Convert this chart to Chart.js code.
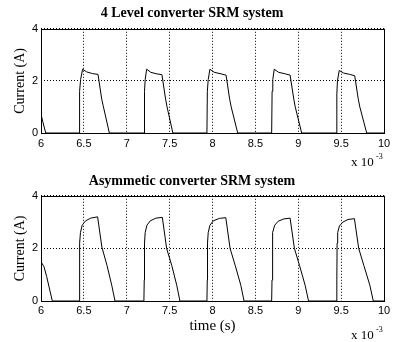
<!DOCTYPE html>
<html>
<head>
<meta charset="utf-8">
<script src="https://cdn.jsdelivr.net/npm/chart.js@4.4.1/dist/chart.umd.min.js"></script>
<style>
  html, body { margin: 0; padding: 0; background: #fff; }
  body { width: 398px; height: 342px; position: relative; overflow: hidden; }
  canvas { position: absolute; left: 0; }
</style>
</head>
<body>
<canvas id="c1" width="398" height="171" style="top:0"></canvas>
<canvas id="c2" width="398" height="171" style="top:171px"></canvas>
<script>
// ---- Data ----
const titleTop = '4 Level converter SRM system';
const titleBottom = 'Asymmetic converter SRM system';
const xTickLabels = ['6', '6.5', '7', '7.5', '8', '8.5', '9', '9.5', '10'];
const yTickLabels = ['0', '2', '4'];

// 4 level converter phase current (time in units of 10^-3 s, current in A)
const time4 = [
  6.0, 6.02, 6.055,
  6.445, 6.45, 6.462, 6.485, 6.53, 6.6, 6.665, 6.708, 6.725, 6.797,
  7.202, 7.207, 7.215, 7.232, 7.28, 7.35, 7.41, 7.453, 7.47, 7.538,
  7.935, 7.94, 7.95, 7.97, 8.02, 8.1, 8.158, 8.2, 8.218, 8.294,
  8.69, 8.695, 8.703, 8.72, 8.77, 8.85, 8.905, 8.948, 8.965, 9.04,
  9.447, 9.45, 9.457, 9.478, 9.53, 9.6, 9.658, 9.7, 9.718, 9.798,
  10.0
];
const current4 = [
  0.72, 0.45, 0,
  0, 1.6, 2.05, 2.45, 2.35, 2.28, 2.25, 1.3, 1.05, 0,
  0, 1.6, 2.05, 2.45, 2.33, 2.27, 2.24, 1.3, 1.0, 0,
  0, 1.6, 2.05, 2.45, 2.33, 2.27, 2.22, 1.3, 1.0, 0,
  0, 1.6, 2.05, 2.45, 2.33, 2.27, 2.22, 1.3, 1.0, 0,
  0, 1.5, 2.0, 2.4, 2.3, 2.25, 2.2, 1.3, 1.0, 0,
  0
];

// Asymmetric converter phase current
const timeA = [
  6.0, 6.035, 6.066, 6.132,
  6.445, 6.449, 6.452, 6.46, 6.48, 6.52, 6.58, 6.66, 6.71, 6.77, 6.825, 6.863,
  7.2, 7.204, 7.207, 7.215, 7.235, 7.275, 7.34, 7.415, 7.465, 7.525, 7.583, 7.62,
  7.935, 7.939, 7.942, 7.95, 7.97, 8.01, 8.08, 8.155, 8.205, 8.265, 8.33, 8.368,
  8.69, 8.694, 8.697, 8.705, 8.725, 8.765, 8.83, 8.905, 8.955, 9.015, 9.08, 9.12,
  9.447, 9.45, 9.453, 9.46, 9.48, 9.52, 9.58, 9.655, 9.705, 9.765, 9.835, 9.875,
  10.0
];
const currentA = [
  1.5, 1.3, 0.93, 0,
  0, 0.8, 2.2, 2.6, 2.88, 3.05, 3.15, 3.2, 2.05, 1.35, 0.6, 0,
  0, 0.8, 2.2, 2.6, 2.88, 3.05, 3.15, 3.18, 2.0, 1.35, 0.6, 0,
  0, 0.8, 2.2, 2.6, 2.88, 3.05, 3.14, 3.17, 2.0, 1.35, 0.6, 0,
  0, 0.8, 2.2, 2.6, 2.88, 3.03, 3.12, 3.15, 2.0, 1.35, 0.6, 0,
  0, 0.8, 2.2, 2.6, 2.85, 3.0, 3.1, 3.13, 2.0, 1.35, 0.6, 0,
  0
];

const SERIF = '"Liberation Serif", "DejaVu Serif", serif';
const SANS = '"Liberation Sans", Arial, sans-serif';

function toPoints(xs, ys) { return xs.map((x, i) => ({ x: x, y: ys[i] })); }

// frame + exponent label
const framePlugin = {
  id: 'frame',
  afterDraw(chart) {
    const { ctx, chartArea: a } = chart;
    ctx.save();
    ctx.strokeStyle = '#000';
    ctx.lineWidth = 1;
    ctx.strokeRect(Math.round(a.left) + 0.5, Math.round(a.top) + 0.5,
                   Math.round(a.right - a.left), Math.round(a.bottom - a.top));
    const ey = chart.options.plugins.frame.expY;
    ctx.fillStyle = '#000';
    ctx.textBaseline = 'middle';
    ctx.textAlign = 'left';
    ctx.font = '13px ' + SERIF;
    ctx.fillText('x 10', a.right - 33, ey);
    ctx.font = '8px ' + SERIF;
    ctx.fillText('-3', a.right - 8, ey - 6);
    ctx.restore();
  }
};

function makeChart(id, title, xs, ys, opts) {
  return new Chart(document.getElementById(id), {
    type: 'line',
    data: {
      datasets: [{
        data: toPoints(xs, ys),
        borderColor: '#000',
        borderWidth: 1,
        pointRadius: 0,
        tension: 0,
        fill: false
      }]
    },
    options: {
      responsive: false,
      animation: false,
      events: [],
      layout: { padding: { left: 0, right: 14, top: 0, bottom: 0 } },
      plugins: {
        legend: { display: false },
        tooltip: { enabled: false },
        title: {
          display: true,
          text: title,
          color: '#000',
          font: { family: SERIF, size: 14, weight: 'bold' },
          padding: opts.titlePad
        },
        frame: { expY: opts.expY }
      },
      scales: {
        x: {
          type: 'linear',
          min: 6, max: 10,
          afterBuildTicks(scale) {
            scale.ticks = xTickLabels.map(v => ({ value: parseFloat(v) }));
          },
          afterFit(scale) { scale.height = opts.xHeight; },
          ticks: {
            color: '#000',
            font: { family: SANS, size: 11 },
            padding: opts.xTickPad,
            maxRotation: 0,
            autoSkip: false,
            callback: (v, i) => xTickLabels[i]
          },
          grid: { color: '#000', lineWidth: 1, drawTicks: false },
          border: { display: false, dash: [1, 2] },
          title: opts.xTitle
        },
        y: {
          type: 'linear',
          min: 0, max: 4,
          afterBuildTicks(scale) {
            scale.ticks = yTickLabels.map(v => ({ value: parseFloat(v) }));
          },
          afterFit(scale) { scale.width = 41; },
          ticks: {
            color: '#000',
            font: { family: SANS, size: 11 },
            padding: 3,
            callback: (v, i) => yTickLabels[i]
          },
          grid: { color: '#000', lineWidth: 1, drawTicks: false },
          border: { display: false, dash: [1, 2] },
          title: {
            display: true,
            text: 'Current (A)',
            color: '#000',
            font: { family: SERIF, size: 14 },
            padding: { top: 12, bottom: 0 }
          }
        }
      }
    },
    plugins: [framePlugin]
  });
}

makeChart('c1', titleTop, time4, current4, {
  titlePad: { top: 5, bottom: 7 },
  xHeight: 38,
  xTickPad: 4,
  expY: 163,
  xTitle: { display: false }
});

makeChart('c2', titleBottom, timeA, currentA, {
  titlePad: { top: 2, bottom: 6 },
  xHeight: 41,
  xTickPad: 3,
  expY: 165,
  xTitle: {
    display: true,
    text: 'time (s)',
    color: '#000',
    font: { family: SERIF, size: 15 },
    padding: { top: 0, bottom: 7 }
  }
});
</script>
</body>
</html>
